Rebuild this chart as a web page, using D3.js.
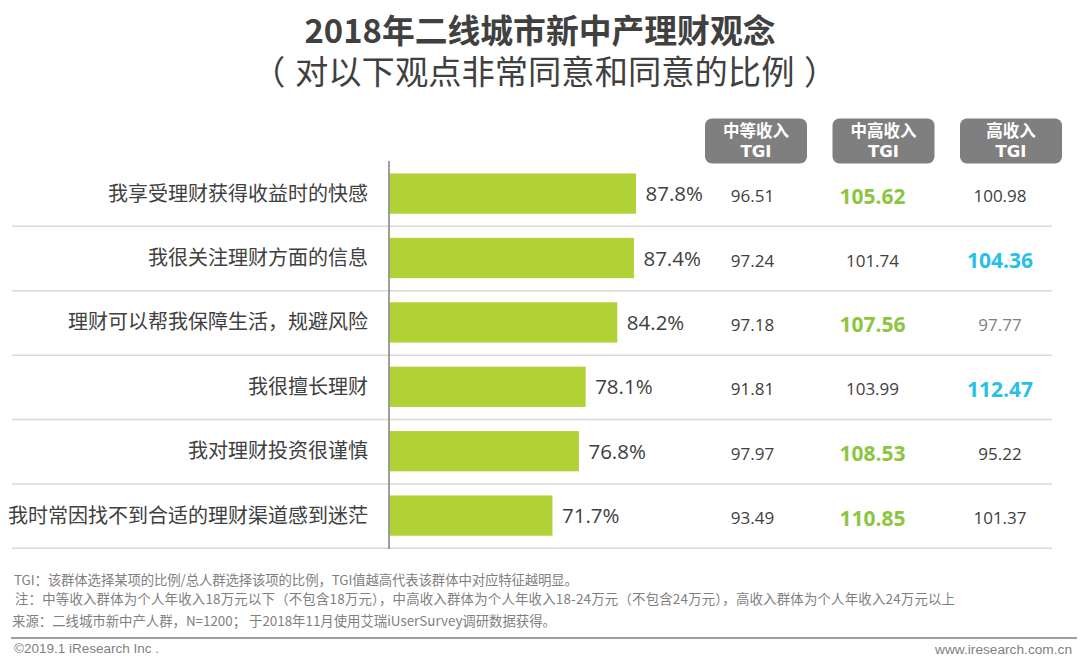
<!DOCTYPE html>
<html><head><meta charset="utf-8">
<script src="https://cdn.jsdelivr.net/npm/d3@7/dist/d3.min.js"></script>
<style>html,body{margin:0;padding:0;background:#fff}svg{display:block}
text{font-family:"Noto Sans CJK SC","Noto Sans",sans-serif}</style></head>
<body><svg id="c" width="1080" height="665"></svg>
<script>
const titleMain = "2018年二线城市新中产理财观念";
const titleSub = ["（","对以下观点非常同意和同意的比例","）"];
const categories = ["我享受理财获得收益时的快感","我很关注理财方面的信息","理财可以帮我保障生活，规避风险","我很擅长理财","我对理财投资很谨慎","我时常因找不到合适的理财渠道感到迷茫"];
const shares = [87.8,87.4,84.2,78.1,76.8,71.7];
const shareLabels = ["87.8%","87.4%","84.2%","78.1%","76.8%","71.7%"];
const midTGI = ["96.51","97.24","97.18","91.81","97.97","93.49"];
const midHighTGI = ["105.62","101.74","107.56","103.99","108.53","110.85"];
const highTGI = ["100.98","104.36","97.77","112.47","95.22","101.37"];
const midHighHi = [true,false,true,false,true,true];
const highHi = [false,true,false,true,false,false];
const highMuted = [false,false,true,false,false,false];
const headers = ["中等收入","中高收入","高收入"];
const headerSub = "TGI";
const notes = ["TGI：该群体选择某项的比例/总人群选择该项的比例，TGI值越高代表该群体中对应特征越明显。",
 "注：中等收入群体为个人年收入18万元以下（不包含18万元），中高收入群体为个人年收入18-24万元（不包含24万元），高收入群体为个人年收入24万元以上",
 "来源：二线城市新中产人群，N=1200； 于2018年11月使用艾瑞iUserSurvey调研数据获得。"];
const footLeft = "©2019.1 iResearch Inc .";
const footRight = "www.iresearch.com.cn";

const svg = d3.select("#c");
// the reference's bars start from a truncated baseline
const x = d3.scaleLinear().domain([40.3,100]).range([389.5,699.3]);
const y = d3.scaleBand().domain(categories).range([161.4,547.8]).paddingInner(0.375).paddingOuter(0.1875);
const colX = d3.scalePoint().domain([0,1,2]).range([756,1011]);

svg.append("text").attr("x",540).attr("y",43).attr("text-anchor","middle")
  .attr("font-size",32.8).attr("font-weight",700).attr("fill","#404040").text(titleMain);
const sub = svg.append("text").attr("y",84).attr("font-size",33.3).attr("fill","#404040");
const subX = [252,295,804];
sub.selectAll("tspan").data(titleSub).join("tspan").attr("x",(d,i)=>subX[i]).text(d=>d);

svg.selectAll("line.sep").data(categories).join("line").attr("class","sep")
  .attr("x1",12).attr("x2",1052)
  .attr("y1",d=>y(d)+y.bandwidth()+12.6).attr("y2",d=>y(d)+y.bandwidth()+12.6)
  .attr("stroke","#d9d9d9").attr("stroke-width",1.5);

svg.selectAll("rect.bar").data(categories).join("rect").attr("class","bar")
  .attr("x",x.range()[0]).attr("y",d=>y(d)).attr("height",y.bandwidth())
  .attr("width",(d,i)=>x(shares[i])-x.range()[0]).attr("fill","#b0d235");

svg.append("line").attr("x1",389).attr("x2",389).attr("y1",161).attr("y2",549)
  .attr("stroke","#7f7f7f").attr("stroke-width",1.5);

svg.selectAll("text.cat").data(categories).join("text").attr("class","cat")
  .attr("x",368).attr("y",d=>y(d)+y.bandwidth()/2+7).attr("text-anchor","end")
  .attr("font-size",20).attr("fill","#404040").text(d=>d);

svg.selectAll("text.val").data(categories).join("text").attr("class","val")
  .attr("x",(d,i)=>x(shares[i])+9.5).attr("y",d=>y(d)+y.bandwidth()/2+7.5)
  .attr("font-size",20.5).attr("fill","#404040").style("font-family","'Open Sans',sans-serif")
  .text((d,i)=>shareLabels[i]);

const hg = svg.selectAll("g.h").data(headers).join("g").attr("class","h");
hg.append("rect").attr("x",(d,i)=>colX(i)-51).attr("y",118.5).attr("width",102).attr("height",45).attr("rx",7).attr("fill","#7f7f7f");
hg.append("text").attr("x",(d,i)=>colX(i)).attr("y",137).attr("text-anchor","middle")
  .attr("font-size",16.5).attr("font-weight",700).attr("fill","#fff").text(d=>d);
hg.append("text").attr("x",(d,i)=>colX(i)).attr("y",157).attr("text-anchor","middle")
  .attr("font-size",16.5).attr("font-weight",700).attr("fill","#fff")
  .style("font-family","'DejaVu Sans',sans-serif").text(headerSub);

const cols = [[midTGI,752.5],[midHighTGI,872.5],[highTGI,1000]];
cols.forEach(([vals,cx],c)=>{
  svg.selectAll("text.t"+c).data(categories).join("text").attr("class","t"+c)
   .attr("x",cx).attr("text-anchor","middle")
   .style("font-family","'Open Sans',sans-serif")
   .each(function(d,i){
     const hi = (c===1&&midHighHi[i])||(c===2&&highHi[i]);
     const col = c===1&&hi ? "#8cc63f" : c===2&&hi ? "#29c0e8" : (c===2&&highMuted[i]) ? "#7f7f7f" : "#404040";
     d3.select(this).attr("font-size",hi?21:17).attr("font-weight",hi?700:400).attr("fill",col)
       .attr("y",y(d)+y.bandwidth()/2+(hi?10:8.5)).text(vals[i]);
   });
});

const noteX=[14,15,12], noteY=[585,604,626], noteW=[564,940,544];
svg.selectAll("text.note").data(notes).join("text").attr("class","note")
  .attr("x",(d,i)=>noteX[i]).attr("y",(d,i)=>noteY[i]).attr("font-size",13.4)
  .attr("textLength",(d,i)=>noteW[i]).attr("lengthAdjust","spacing")
  .attr("fill","#7f7f7f").text(d=>d);

svg.append("line").attr("x1",11).attr("x2",1077).attr("y1",638).attr("y2",638).attr("stroke","#7f7f7f").attr("stroke-width",1.5);
svg.append("text").attr("x",14).attr("y",653).attr("font-size",13.5).attr("fill","#7f7f7f").style("font-family","'Liberation Sans',sans-serif").text(footLeft);
svg.append("text").attr("x",1072).attr("y",654).attr("text-anchor","end").attr("font-size",13.7).attr("fill","#7f7f7f").style("font-family","'Liberation Sans',sans-serif").text(footRight);
</script></body></html>
